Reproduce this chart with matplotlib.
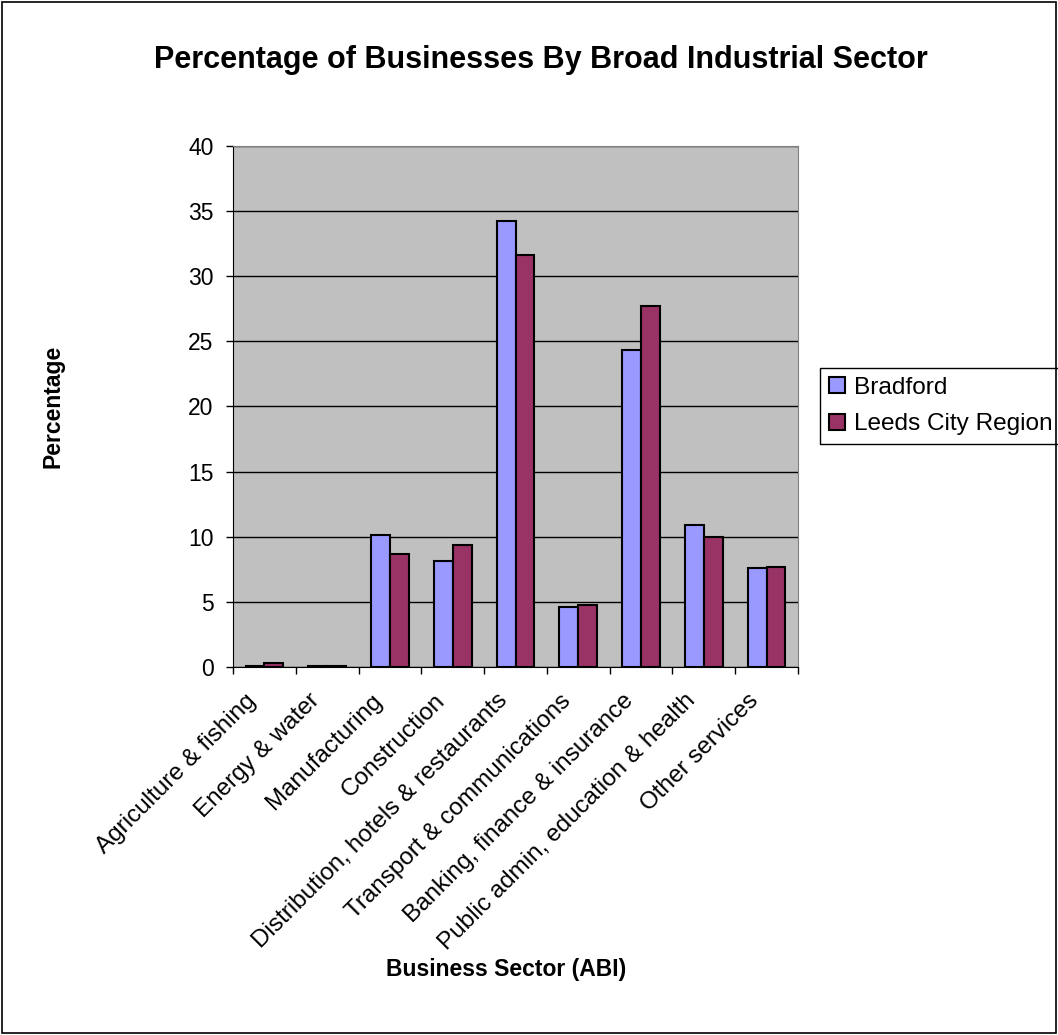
import numpy as np
import matplotlib.pyplot as plt
from matplotlib.patches import Rectangle
from matplotlib.transforms import ScaledTranslation

plt.rcParams['font.family'] = ['Liberation Sans', 'DejaVu Sans']

# Sector shares (%), Bradford vs Leeds City Region
sectors = ['Agriculture & fishing', 'Energy & water', 'Manufacturing', 'Construction',
           'Distribution, hotels & restaurants', 'Transport & communications',
           'Banking, finance & insurance', 'Public admin, education & health',
           'Other services']
bradford = [0.1, 0.1, 10.1, 8.15, 34.25, 4.6, 24.3, 10.9, 7.6]
leeds = [0.3, 0.1, 8.65, 9.4, 31.6, 4.75, 27.7, 9.95, 7.7]

fig = plt.figure(figsize=(10.58, 10.35), dpi=100)
fig.patches.append(Rectangle((0.002, 0.002), 0.996, 0.996, transform=fig.transFigure,
                             fill=False, edgecolor='black', linewidth=1.2))

ax = fig.add_axes([0.2202, 0.3556, 0.5341, 0.5033])
ax.set_facecolor('#C0C0C0')

x = np.arange(len(sectors))
w = 0.3
ax.bar(x - w / 2, bradford, w, color='#9999FF', edgecolor='black', linewidth=1.5,
       label='Bradford', zorder=3)
ax.bar(x + w / 2, leeds, w, color='#993366', edgecolor='black', linewidth=1.5,
       label='Leeds City Region', zorder=3)

ax.set_xlim(-0.5, len(sectors) - 0.5)
ax.set_ylim(0, 40)
ax.set_yticks(range(0, 41, 5))
ax.yaxis.grid(True, color='black', linewidth=1)
ax.set_axisbelow(True)
ax.tick_params(axis='y', labelsize=16.5, length=5, width=1, direction='out', pad=9)

# category ticks sit on the boundaries, labels at the centres
ax.set_xticks(np.arange(-0.5, len(sectors), 1))
ax.set_xticklabels([])
ax.set_xticks(x, minor=True)
ax.set_xticklabels(sectors, minor=True, rotation=45, ha='right', rotation_mode='anchor',
                   fontsize=17.5)
ax.tick_params(axis='x', which='major', length=5, width=1, direction='out')
ax.tick_params(axis='x', which='minor', length=0, pad=12)
shift = ScaledTranslation(-19 / 100, -6 / 100, fig.dpi_scale_trans)
for lbl in ax.get_xticklabels(minor=True):
    lbl.set_transform(lbl.get_transform() + shift)

for side in ['top', 'right']:
    ax.spines[side].set_color('#808080')
for side in ['left', 'bottom']:
    ax.spines[side].set_color('black')

fig.text(0.050, 0.607, 'Percentage', rotation=90, ha='center', va='center',
         fontsize=16.5, fontweight='bold')
fig.text(0.478, 0.063, 'Business Sector (ABI)', ha='center', va='center',
         fontsize=16.5, fontweight='bold')
fig.text(0.511, 0.942, 'Percentage of Businesses By Broad Industrial Sector',
         ha='center', va='center', fontsize=22, fontweight='bold')

leg = ax.legend(loc='center left', bbox_to_anchor=(1.039, 0.501), fontsize=17.6,
                frameon=True, fancybox=False, edgecolor='black', framealpha=1,
                handlelength=0.65, handleheight=0.65, handletextpad=0.4,
                borderpad=0.35, labelspacing=0.6, borderaxespad=0)
leg.get_frame().set_linewidth(1)

fig.savefig('out.png', dpi=100)
